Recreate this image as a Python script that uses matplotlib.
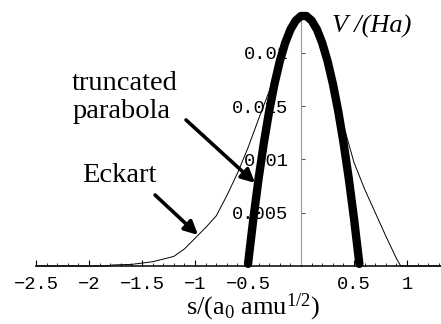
import matplotlib
matplotlib.use('Agg')
from matplotlib import pyplot as plt
from matplotlib.ticker import MultipleLocator

plt.rcParams['mathtext.fontset'] = 'custom'
plt.rcParams['mathtext.rm'] = 'Liberation Serif'
plt.rcParams['mathtext.it'] = 'Liberation Serif:italic'

# Eckart potential (thin line)
eckart_s = [-2.5, -1.85, -1.77, -1.6, -1.4, -1.2, -1.1, -1.0, -0.9, -0.8, -0.7, -0.6,
            -0.5, -0.4, -0.3, -0.2, -0.1, 0.0, 0.1, 0.2, 0.3, 0.4, 0.5, 0.6, 0.7,
            0.8, 0.9, 0.94, 1.32]
eckart_v = [0.0, 0.0, 0.0001, 0.00015, 0.0004, 0.0009, 0.0016, 0.0026, 0.0036, 0.0047,
            0.0066, 0.0087, 0.0111, 0.0138, 0.0164, 0.0193, 0.0219, 0.0234, 0.0228,
            0.0205, 0.0171, 0.0132, 0.0097, 0.0072, 0.0050, 0.0028, 0.0007, 0.0, 0.0]

# truncated parabola (thick line)
parab_s = [-0.50, -0.45, -0.40, -0.35, -0.30, -0.25, -0.20, -0.15, -0.10, -0.05, 0.0,
           0.05, 0.10, 0.15, 0.20, 0.25, 0.30, 0.35, 0.40, 0.45, 0.50, 0.55]
parab_v = [0.0002, 0.00441, 0.00822, 0.0116, 0.01456, 0.0171, 0.01922, 0.02091, 0.02218,
           0.02302, 0.02345, 0.02345, 0.02302, 0.02218, 0.02091, 0.01922, 0.0171,
           0.01456, 0.0116, 0.00822, 0.00441, 0.0002]

x_ticks = [-2.5, -2, -1.5, -1, -0.5, 0.5, 1]
x_labels = ['\u22122.5', '\u22122', '\u22121.5', '\u22121', '\u22120.5', '0.5', '1']
y_ticks = [0.005, 0.01, 0.015, 0.02]
y_labels = ['0.005', '0.01', '0.015', '0.02']

fig = plt.figure(figsize=(4.41, 3.24), dpi=100)
ax = fig.add_axes([0.0816, 0.179, 0.9184, 0.7809])
ax.set_xlim(-2.5, 1.32)
ax.set_ylim(0, 0.02373)

ax.plot(eckart_s, eckart_v, color='k', lw=0.7, zorder=3, clip_on=False)
ax.plot(parab_s, parab_v, color='k', lw=6.0, zorder=4, clip_on=False,
        solid_capstyle='round', solid_joinstyle='round')

for side in ['top', 'right']:
    ax.spines[side].set_visible(False)
ax.spines['left'].set_position(('data', 0))
ax.spines['left'].set_color('#999999')
ax.spines['left'].set_linewidth(0.8)
ax.spines['bottom'].set_linewidth(1.1)

mono = 'Liberation Mono'
ax.set_xticks(x_ticks)
ax.set_xticklabels(x_labels, fontfamily=mono, fontsize=13.5)
ax.xaxis.set_minor_locator(MultipleLocator(0.1))
ax.tick_params(axis='x', which='major', direction='in', length=4, width=0.8, pad=7)
ax.tick_params(axis='x', which='minor', direction='in', length=2.5, width=0.6)

ax.set_yticks(y_ticks)
ax.set_yticklabels(y_labels, fontfamily=mono, fontsize=13.5)
ax.tick_params(axis='y', which='major', direction='in', length=3, width=0.8,
               color='#555555', pad=9)

serif = 'Liberation Serif'
ax.text(0.29, 0.02186, 'V /(Ha)', fontfamily=serif, fontstyle='italic', fontsize=19,
        ha='left', va='baseline')
ax.text(-2.16, 0.0165, 'truncated', fontfamily=serif, fontsize=20.5, ha='left', va='baseline')
ax.text(-2.16, 0.0139, 'parabola', fontfamily=serif, fontsize=20.5, ha='left', va='baseline')
ax.text(-2.06, 0.00788, 'Eckart', fontfamily=serif, fontsize=20.5, ha='left', va='baseline')

arrow = dict(arrowstyle='-|>', lw=2.6, color='k', mutation_scale=20, shrinkA=0, shrinkB=0)
ax.annotate('', xy=(-0.434, 0.00779), xytext=(-1.085, 0.0137), arrowprops=arrow, zorder=5)
ax.annotate('', xy=(-0.972, 0.00291), xytext=(-1.377, 0.00666), arrowprops=arrow, zorder=5)

fig.text(253 / 441, 0.03, 's/(a$_0$ amu$^{1/2}$)', fontfamily=serif, fontsize=19,
         ha='center', va='baseline')

plt.savefig('out.png', dpi=100)
